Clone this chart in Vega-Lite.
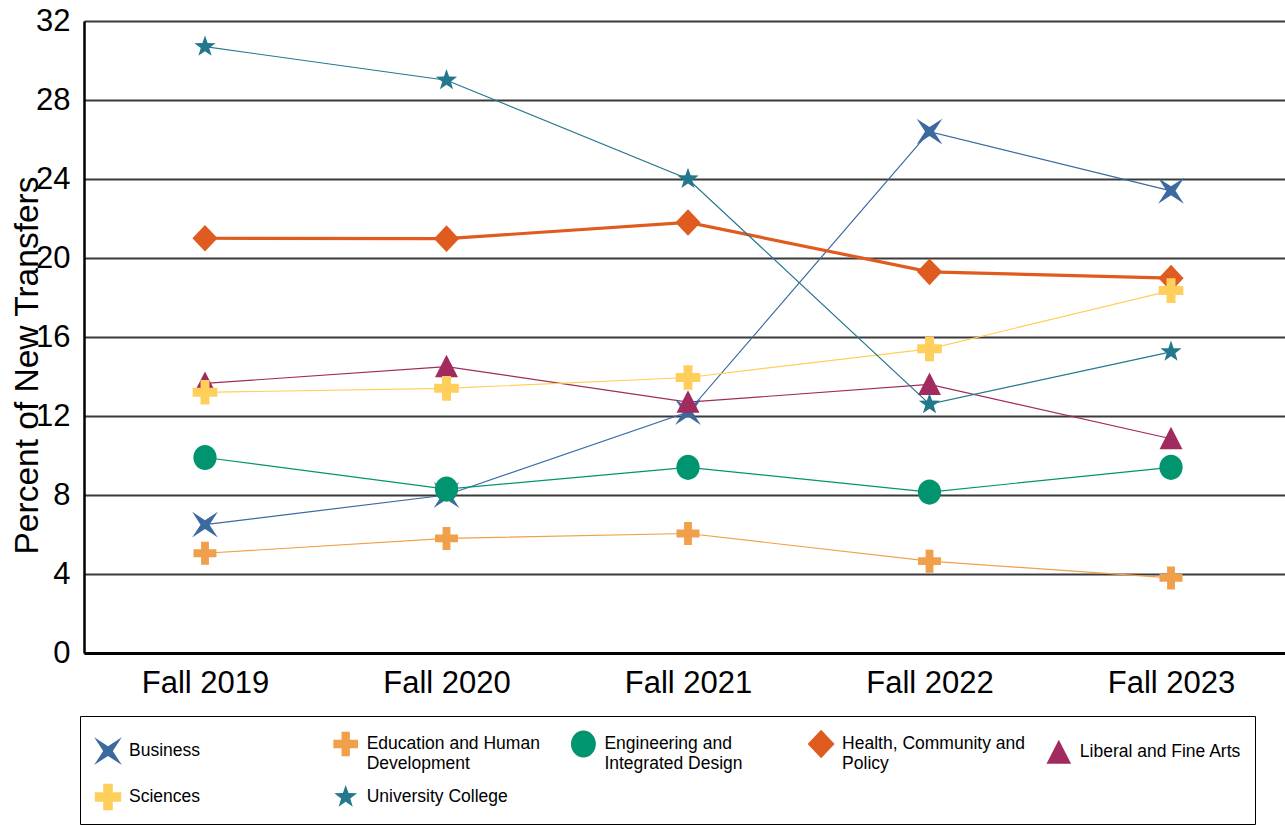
{
  "$schema": "https://vega.github.io/schema/vega-lite/v6.json",
  "width": 1201,
  "height": 632,
  "autosize": {"type": "none"},
  "padding": {"left": 84, "top": 21, "right": 0, "bottom": 172},
  "background": "white",
  "title": {"text": "New Transfers by College", "fontSize": 45, "font": "Liberation Sans", "fontWeight": "bold", "anchor": "middle", "dx": 43, "offset": 0, "baseline": "alphabetic", "color": "black"},
  "config": {"view": {"stroke": null}, "font": "Liberation Sans"},
  "data": {"values": [
    {"year": 2019, "college": "Business", "pct": 6.5},
    {"year": 2020, "college": "Business", "pct": 8.0},
    {"year": 2021, "college": "Business", "pct": 12.2},
    {"year": 2022, "college": "Business", "pct": 26.4},
    {"year": 2023, "college": "Business", "pct": 23.4},
    {"year": 2019, "college": "Education and Human Development", "pct": 5.05},
    {"year": 2020, "college": "Education and Human Development", "pct": 5.8},
    {"year": 2021, "college": "Education and Human Development", "pct": 6.05},
    {"year": 2022, "college": "Education and Human Development", "pct": 4.65},
    {"year": 2023, "college": "Education and Human Development", "pct": 3.8},
    {"year": 2019, "college": "Engineering and Integrated Design", "pct": 9.9},
    {"year": 2020, "college": "Engineering and Integrated Design", "pct": 8.3},
    {"year": 2021, "college": "Engineering and Integrated Design", "pct": 9.4},
    {"year": 2022, "college": "Engineering and Integrated Design", "pct": 8.15},
    {"year": 2023, "college": "Engineering and Integrated Design", "pct": 9.4},
    {"year": 2019, "college": "Health, Community and Policy", "pct": 21.0},
    {"year": 2020, "college": "Health, Community and Policy", "pct": 20.98},
    {"year": 2021, "college": "Health, Community and Policy", "pct": 21.8},
    {"year": 2022, "college": "Health, Community and Policy", "pct": 19.3},
    {"year": 2023, "college": "Health, Community and Policy", "pct": 18.98},
    {"year": 2019, "college": "Liberal and Fine Arts", "pct": 13.65},
    {"year": 2020, "college": "Liberal and Fine Arts", "pct": 14.5},
    {"year": 2021, "college": "Liberal and Fine Arts", "pct": 12.7},
    {"year": 2022, "college": "Liberal and Fine Arts", "pct": 13.6},
    {"year": 2023, "college": "Liberal and Fine Arts", "pct": 10.85},
    {"year": 2019, "college": "Sciences", "pct": 13.2},
    {"year": 2020, "college": "Sciences", "pct": 13.4},
    {"year": 2021, "college": "Sciences", "pct": 13.95},
    {"year": 2022, "college": "Sciences", "pct": 15.4},
    {"year": 2023, "college": "Sciences", "pct": 18.35},
    {"year": 2019, "college": "University College", "pct": 30.7},
    {"year": 2020, "college": "University College", "pct": 29.0},
    {"year": 2021, "college": "University College", "pct": 24.0},
    {"year": 2022, "college": "University College", "pct": 12.6},
    {"year": 2023, "college": "University College", "pct": 15.25}
  ]},
  "encoding": {
    "x": {"field": "year", "type": "quantitative",
      "scale": {"domain": [2018.499, 2023.472], "nice": false, "zero": false},
      "axis": {"values": [2019, 2020, 2021, 2022, 2023], "labelExpr": "'Fall ' + datum.value", "title": null, "grid": false, "ticks": false, "domainColor": "black", "domainWidth": 3, "labelFontSize": 31, "labelColor": "black", "labelPadding": 15, "labelFont": "Liberation Sans", "labelFlush": false, "labelOverlap": false}},
    "y": {"field": "pct", "type": "quantitative",
      "scale": {"domain": [0, 32], "nice": false},
      "axis": {"values": [0, 4, 8, 12, 16, 20, 24, 28, 32], "title": "Percent of New Transfers", "titleFont": "Liberation Sans", "titleFontSize": 33.5, "titleFontWeight": "normal", "titleColor": "black", "titleX": -57, "titleY": 344, "titleAngle": -90, "titleAlign": "center", "titleBaseline": "middle", "grid": true, "gridColor": "#3a3a3a", "gridWidth": 2, "ticks": false, "domainColor": "black", "domainWidth": 2.5, "labelFontSize": 31, "labelColor": "black", "labelPadding": 14, "labelFont": "Liberation Sans", "labelOverlap": false}},
    "color": {"field": "college", "type": "nominal",
      "scale": {"domain": ["Business", "Education and Human Development", "Engineering and Integrated Design", "Health, Community and Policy", "Liberal and Fine Arts", "Sciences", "University College"],
                "range": ["#3B6A9F", "#F0A04A", "#00956F", "#E05B1F", "#A12A5E", "#FFCF5C", "#24788E"]},
      "legend": {
        "orient": "none", "legendX": -4, "legendY": 695, "direction": "horizontal", "columns": 5, "gridAlign": "all",
        "title": null,
        "labelFontSize": 17.5, "labelFont": "Liberation Sans", "labelColor": "black", "labelLimit": 300,
        "symbolSize": 900, "symbolStrokeWidth": 0, "symbolOpacity": 1, "labelOffset": 6,
        "columnPadding": 18.7, "rowPadding": 10, "padding": 13,
        "strokeColor": "black", "fillColor": "white",
        "labelExpr": "datum.label == 'Education and Human Development' ? ['Education and Human', 'Development'] : datum.label == 'Engineering and Integrated Design' ? ['Engineering and', 'Integrated Design'] : datum.label == 'Health, Community and Policy' ? ['Health, Community and', 'Policy'] : datum.label"
      }
    }
  },
  "layer": [
    {
      "mark": {"type": "line", "interpolate": "linear"},
      "encoding": {
        "strokeWidth": {"condition": {"test": "datum.college === 'Health, Community and Policy'", "value": 3.2}, "value": 1.2}
      }
    },
    {
      "mark": {"type": "point", "filled": true, "opacity": 1, "size": 784, "strokeWidth": 0},
      "encoding": {
        "shape": {"field": "college", "type": "nominal", "legend": null,
          "scale": {"domain": ["Business", "Education and Human Development", "Engineering and Integrated Design", "Health, Community and Policy", "Liberal and Fine Arts", "Sciences", "University College"],
                    "range": [
                      "M-0.92,-0.92L0,-0.32L0.92,-0.92L0.32,0L0.92,0.92L0,0.32L-0.92,0.92L-0.32,0Z",
                      "M-0.28,-0.82L0.28,-0.82L0.28,-0.28L0.82,-0.28L0.82,0.28L0.28,0.28L0.28,0.82L-0.28,0.82L-0.28,0.28L-0.82,0.28L-0.82,-0.28L-0.28,-0.28Z",
                      "M0,-0.9A0.83,0.9 0 1,1 0,0.9A0.83,0.9 0 1,1 0,-0.9Z",
                      "M0,-0.95L0.9,0L0,0.95L-0.9,0Z",
                      "M0,-0.85L0.82,0.75L-0.82,0.75Z",
                      "M-0.32,-0.88L0.32,-0.88L0.32,-0.32L0.88,-0.32L0.88,0.32L0.32,0.32L0.32,0.88L-0.32,0.88L-0.32,0.32L-0.88,0.32L-0.88,-0.32L-0.32,-0.32Z",
                      "M0,-0.8L0.188,-0.259L0.761,-0.247L0.304,0.099L0.47,0.647L0,0.32L-0.47,0.647L-0.304,0.099L-0.761,-0.247L-0.188,-0.259Z"
                    ]}}
      }
    }
  ]
}
